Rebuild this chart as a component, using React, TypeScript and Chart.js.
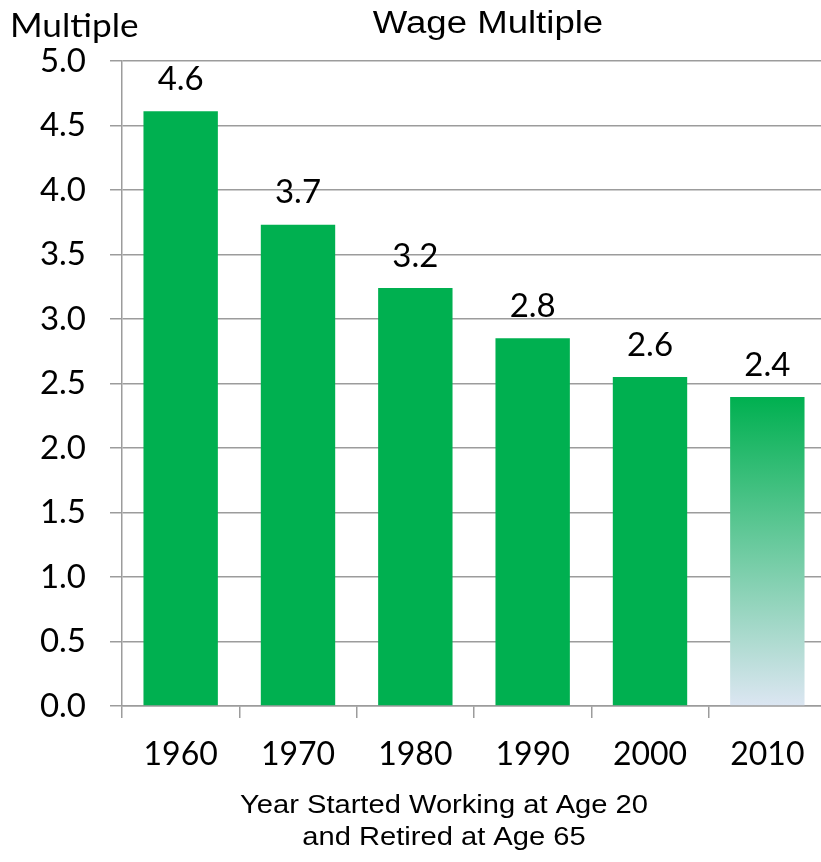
import React, { useEffect, useRef } from "react";
import { Chart, registerables } from "chart.js";

Chart.register(...registerables);

const categories = ["1960", "1970", "1980", "1990", "2000", "2010"];
const values = [4.61, 3.73, 3.24, 2.85, 2.55, 2.395];
const valueLabels = ["4.6", "3.7", "3.2", "2.8", "2.6", "2.4"];
const yTicks = [0, 0.5, 1.0, 1.5, 2.0, 2.5, 3.0, 3.5, 4.0, 4.5, 5.0];
const chartTitle = "Wage Multiple";
const yAxisTitle = "Multiple";
const xAxisTitle = ["Year Started Working at Age 20", "and Retired at Age 65"];

const GREEN = "#00B050";
const GRID = "#9c9c9c";
const W = 828;
const H = 862;

function stretchedText(ctx: any, text: string, x: number, y: number, sx: number) {
  ctx.save();
  ctx.translate(x, y);
  ctx.scale(sx, 1);
  ctx.fillText(text, 0, 0);
  ctx.restore();
}

const textPlugin = {
  id: "texts",
  afterDatasetsDraw(chart: any) {
    const ctx = chart.ctx;
    const area = chart.chartArea;
    ctx.save();
    ctx.fillStyle = "#000";
    // data labels
    ctx.font = "33px Lato";
    ctx.textAlign = "center";
    ctx.textBaseline = "middle";
    const meta = chart.getDatasetMeta(0);
    meta.data.forEach((bar: any, i: number) => {
      ctx.fillText(valueLabels[i], bar.x, bar.y - 32);
    });
    // chart title
    ctx.font = "31px 'Liberation Sans'";
    ctx.textBaseline = "alphabetic";
    ctx.textAlign = "center";
    stretchedText(ctx, chartTitle, area.left + 366, area.top - 28, 1.18);
    // y axis title
    ctx.font = "32px Lato";
    ctx.textAlign = "left";
    stretchedText(ctx, yAxisTitle, 10, area.top - 24, 1.1);
    // x axis title
    ctx.font = "26px 'Liberation Sans'";
    ctx.textAlign = "center";
    stretchedText(ctx, xAxisTitle[0], area.left + 322, area.bottom + 107, 1.12);
    stretchedText(ctx, xAxisTitle[1], area.left + 322, area.bottom + 139, 1.12);
    ctx.restore();
  },
};

export default function App() {
  const ref = useRef<HTMLCanvasElement | null>(null);
  useEffect(() => {
    if (!ref.current) return;
    const chart = new Chart(ref.current, {
      type: "bar",
      data: {
        labels: categories,
        datasets: [
          {
            data: values,
            backgroundColor: (c: any) => {
              const chartObj = c.chart;
              if (c.dataIndex !== 5 || !chartObj.chartArea) return GREEN;
              const ys = chartObj.scales.y;
              const top = ys.getPixelForValue(values[5]);
              const bottom = ys.getPixelForValue(0);
              const g = chartObj.ctx.createLinearGradient(0, top, 0, bottom);
              g.addColorStop(0, GREEN);
              g.addColorStop(1, "#DCE6F2");
              return g;
            },
            borderWidth: 0,
            barPercentage: 0.634,
            categoryPercentage: 1,
          },
        ],
      },
      options: {
        responsive: false,
        animation: false,
        devicePixelRatio: 1,
        layout: { padding: { top: 61, right: 2, left: 0, bottom: 76 } },
        plugins: {
          legend: { display: false },
          title: { display: false },
          tooltip: { enabled: false },
        },
        scales: {
          x: {
            afterFit: (s: any) => {
              s.height = 80;
            },
            grid: {
              display: true,
              drawOnChartArea: false,
              drawTicks: true,
              tickLength: 12,
              color: GRID,
              lineWidth: 1.5,
              offset: true,
            },
            border: { display: true, color: GRID, width: 1.5 },
            ticks: {
              color: "#000",
              font: { family: "Lato", size: 32 },
              padding: 17,
            },
          },
          y: {
            min: 0,
            max: 5,
            afterFit: (s: any) => {
              s.width = 122;
            },
            afterBuildTicks: (s: any) => {
              s.ticks = yTicks.map((v) => ({ value: v }));
            },
            grid: {
              color: GRID,
              lineWidth: 1.5,
              drawTicks: true,
              tickLength: 12,
            },
            border: { display: true, color: GRID, width: 1.5 },
            ticks: {
              color: "#000",
              font: { family: "Lato", size: 33 },
              padding: 24,
              callback: (v: any) => Number(v).toFixed(1),
            },
          },
        },
      },
      plugins: [textPlugin],
    });
    return () => chart.destroy();
  }, []);
  return (
    <div
      style={{
        position: "fixed",
        left: 0,
        top: 0,
        width: 821,
        height: 862,
        overflow: "hidden",
        background: "#fff",
      }}
    >
      <canvas ref={ref} width={W} height={H} style={{ display: "block", width: W, height: H }} />
    </div>
  );
}
